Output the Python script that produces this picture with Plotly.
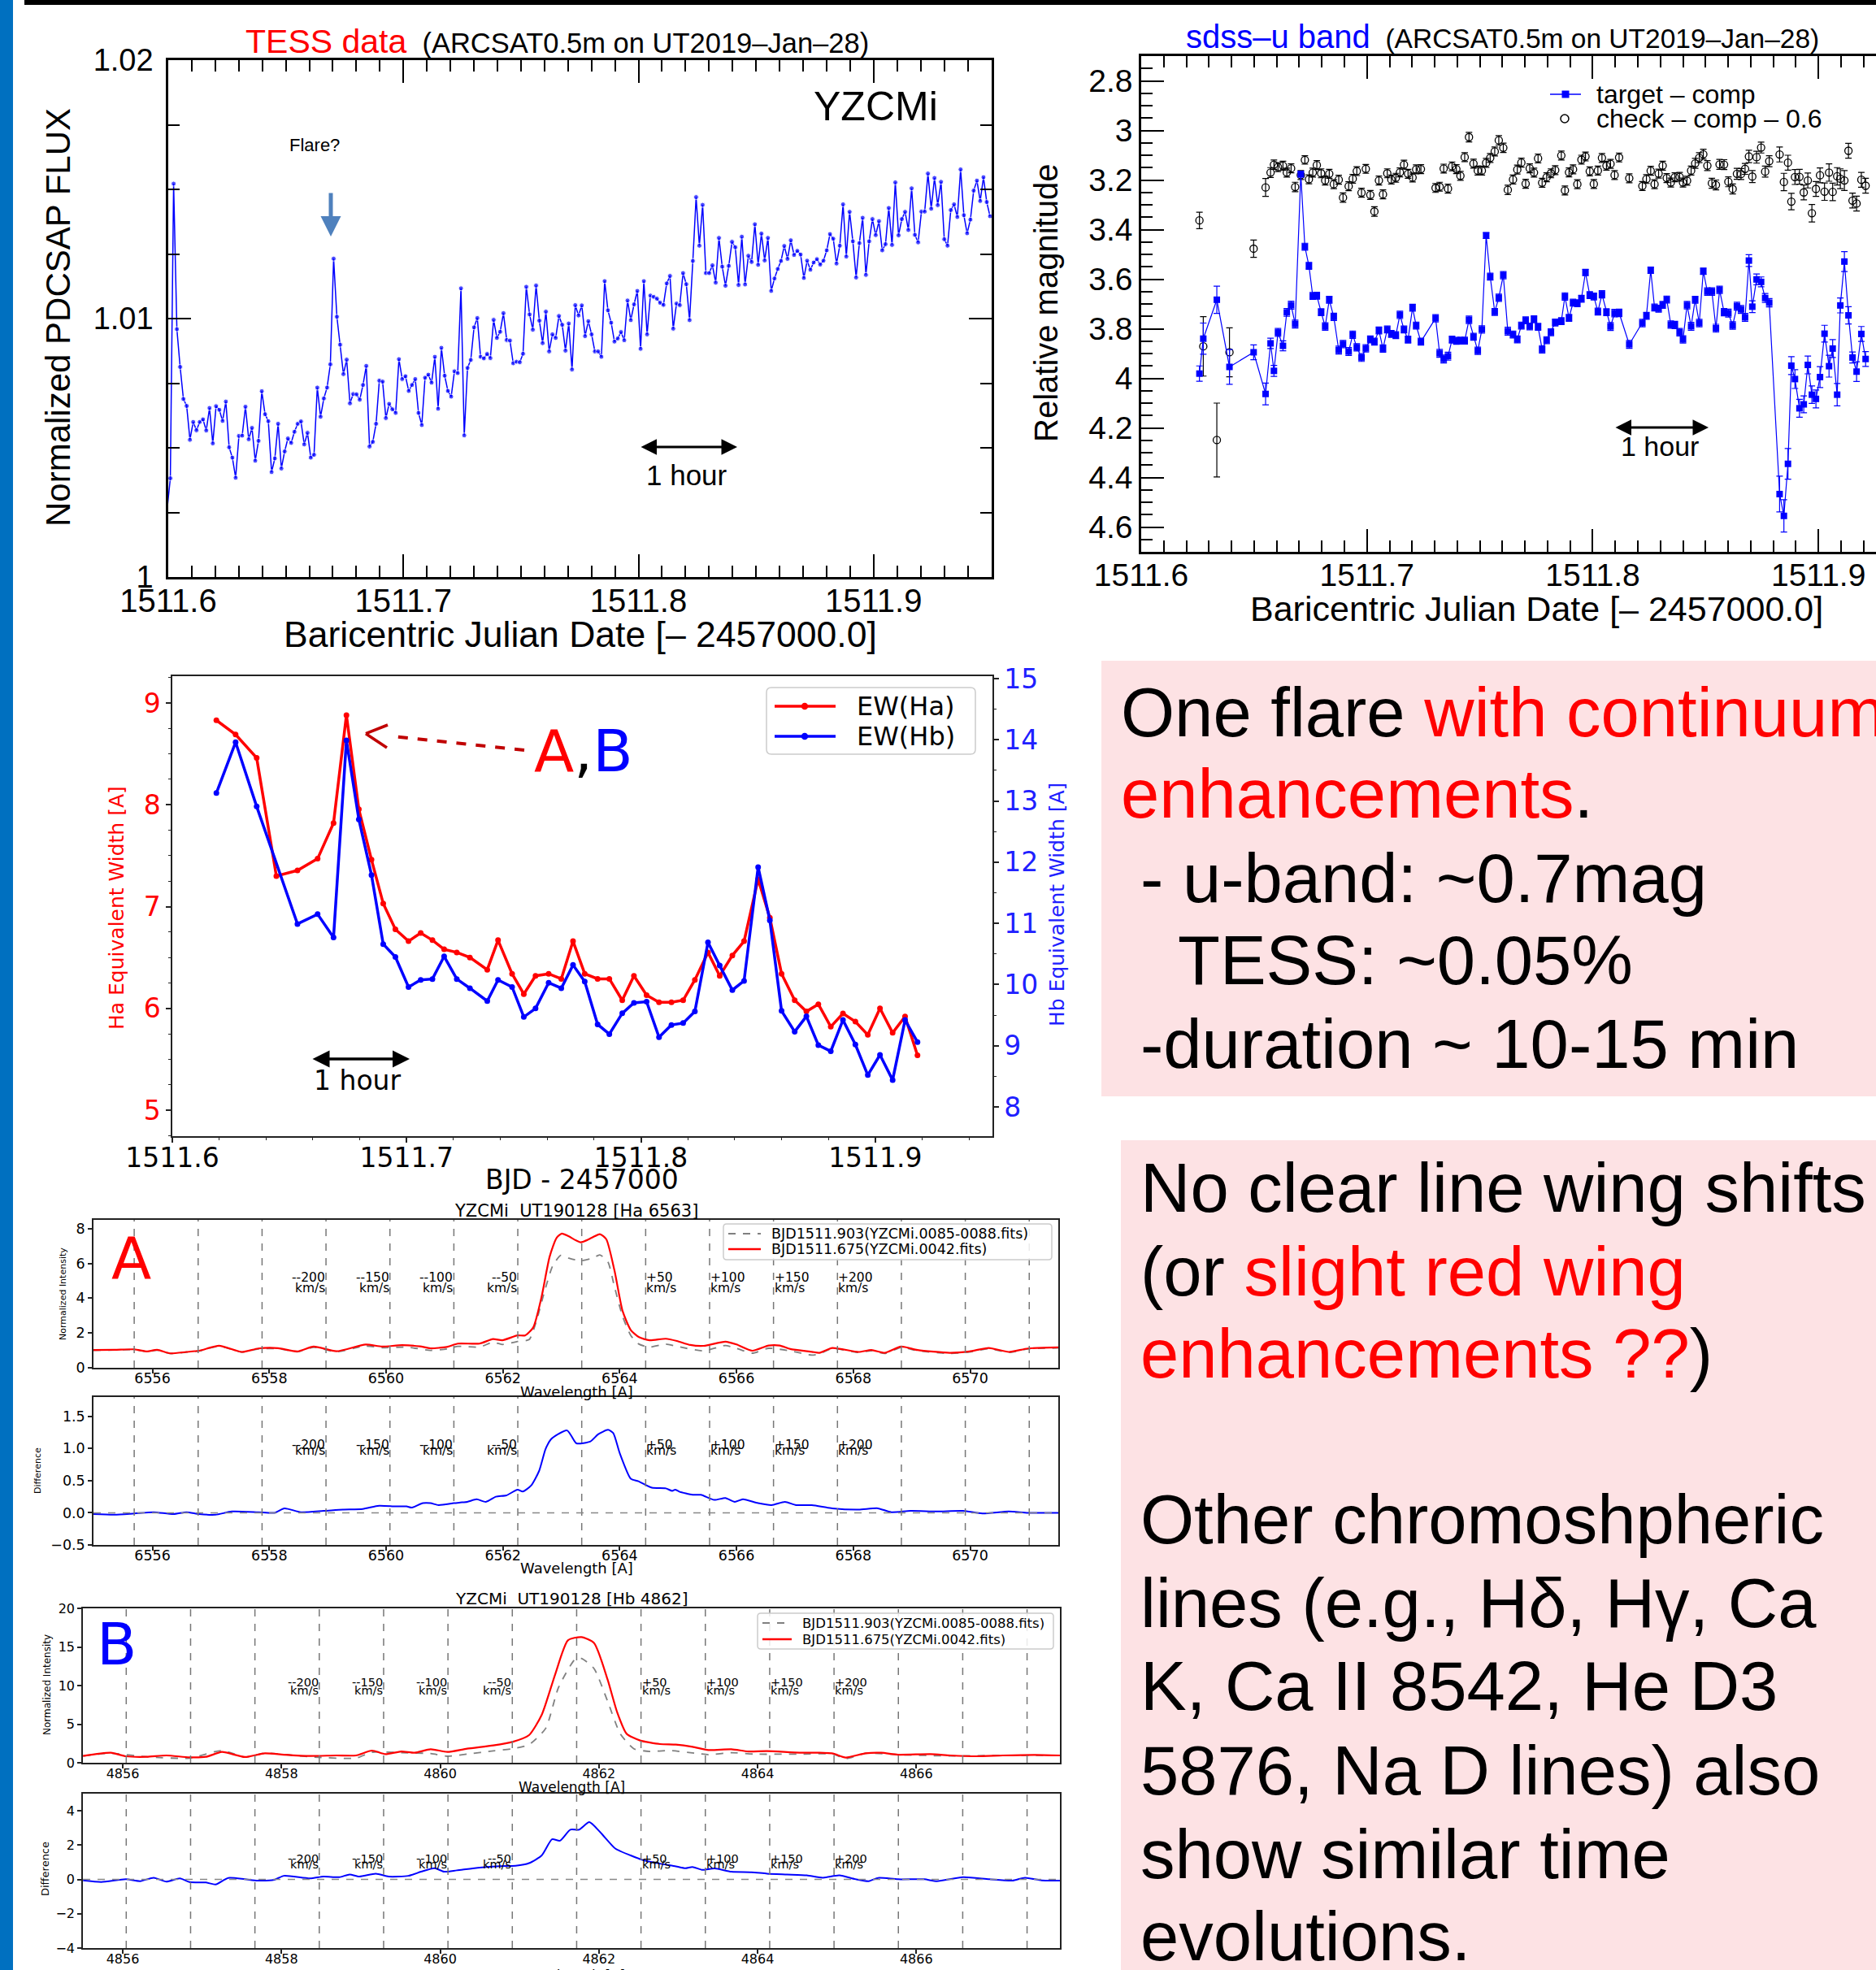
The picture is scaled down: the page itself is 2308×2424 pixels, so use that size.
import plotly.graph_objects as go

W, H = 2308, 2424
ARIAL = "Liberation Sans, Arial, Helvetica, sans-serif"
DEJAVU = "DejaVu Sans, Verdana, sans-serif"

# ---------------- TESS light curve (2-min cadence) ----------------
tess_t0 = 1511.5995
tess_cadence = 2.0 / 1440.0
tess_flux = [1.0026, 1.00382, 1.01522, 1.00959, 1.00813, 1.00689, 1.00662, 1.00531, 1.00600, 1.00568, 1.00600,
             1.00610, 1.00567, 1.00654, 1.00517, 1.00661, 1.00647, 1.00604, 1.00679, 1.00502, 1.00462,
             1.00384, 1.00546, 1.00547, 1.00659, 1.00533, 1.00577, 1.00450, 1.00527, 1.00719, 1.00630,
             1.00603, 1.00406, 1.00459, 1.00593, 1.00420, 1.00486, 1.00536, 1.00519, 1.00562, 1.00593,
             1.00602, 1.00513, 1.00558, 1.00462, 1.00473, 1.00733, 1.00620, 1.00691, 1.00733, 1.00823,
             1.01232, 1.01007, 1.00899, 1.00785, 1.00841, 1.00672, 1.00708, 1.00707, 1.00686, 1.00743,
             1.00817, 1.00505, 1.00523, 1.00593, 1.00760, 1.00756, 1.00615, 1.00670, 1.00649, 1.00635,
             1.00843, 1.00766, 1.00777, 1.00720, 1.00743, 1.00766, 1.00635, 1.00588, 1.00771, 1.00783,
             1.00752, 1.00852, 1.00651, 1.00887, 1.00779, 1.00720, 1.00698, 1.00796, 1.00789, 1.01117,
             1.00548, 1.00809, 1.00840, 1.00966, 1.01002, 1.00852, 1.00846, 1.00863, 1.00847, 1.00995,
             1.00925, 1.00949, 1.01021, 1.00917, 1.00915, 1.00827, 1.00833, 1.00831, 1.00864, 1.01123,
             1.01016, 1.00957, 1.01128, 1.00992, 1.00905, 1.01027, 1.00873, 1.00939, 1.00925, 1.01010,
             1.00976, 1.00876, 1.00981, 1.00803, 1.01052, 1.01012, 1.01051,
             1.00932, 1.00990, 1.00939, 1.00873, 1.00873, 1.00852, 1.01145, 1.01032, 1.00984, 1.00911,
             1.00923, 1.00948, 1.00916, 1.01070, 1.00994, 1.01055, 1.01107, 1.00883, 1.01145, 1.00939,
             1.01089, 1.01084, 1.01077, 1.01061, 1.01053, 1.01136, 1.01165, 1.00961, 1.01058, 1.01052,
             1.01176, 1.01133, 1.00994, 1.01223, 1.01470, 1.01282, 1.01440, 1.01176, 1.01176, 1.01206,
             1.01139, 1.01312, 1.01201, 1.01127, 1.01204, 1.01297, 1.01276, 1.01130, 1.01317, 1.01132,
             1.01243, 1.01219, 1.01365, 1.01208, 1.01329, 1.01225, 1.01312, 1.01107, 1.01155, 1.01192,
             1.01223, 1.01281, 1.01231, 1.01303, 1.01246, 1.01262, 1.01248, 1.01157, 1.01224, 1.01189,
             1.01217, 1.01230, 1.01209, 1.01224, 1.01264, 1.01327, 1.01309, 1.01213, 1.01282, 1.01442,
             1.01240, 1.01413, 1.01299, 1.01159, 1.01292, 1.01390, 1.01169, 1.01299, 1.01385, 1.01323,
             1.01377, 1.01264, 1.01288, 1.01428, 1.01285, 1.01527, 1.01322, 1.01385, 1.01413, 1.01343,
             1.01504, 1.01324, 1.01295, 1.01414, 1.01414, 1.01561, 1.01425, 1.01544, 1.01439, 1.01529,
             1.01307, 1.01282, 1.01420, 1.01442, 1.01393, 1.01577, 1.01400, 1.01330, 1.01383, 1.01495,
             1.01534, 1.01455, 1.01547, 1.01451, 1.01396]
tess_t = [tess_t0 + i * tess_cadence for i in range(len(tess_flux))]

# ---------------- ARCSAT sdss-u photometry ----------------
ub_t = [1511.6258, 1511.6275, 1511.6335, 1511.6391, 1511.6498, 1511.6551, 1511.6573, 1511.6588, 1511.6606, 1511.6628,
        1511.6645, 1511.6664, 1511.6682, 1511.6707, 1511.6725, 1511.6743, 1511.6760, 1511.6778, 1511.6797, 1511.6815,
        1511.6833, 1511.6853, 1511.6875, 1511.6894, 1511.6919, 1511.6937, 1511.6955, 1511.6976, 1511.6995, 1511.7015,
        1511.7033, 1511.7053, 1511.7071, 1511.7090, 1511.7108, 1511.7128, 1511.7146, 1511.7164, 1511.7182, 1511.7202,
        1511.7218, 1511.7239, 1511.7304, 1511.7322, 1511.7340, 1511.7359, 1511.7377, 1511.7396, 1511.7414, 1511.7433,
        1511.7452, 1511.7472, 1511.7491, 1511.7509, 1511.7528, 1511.7546, 1511.7566, 1511.7584, 1511.7604, 1511.7624,
        1511.7647, 1511.7666, 1511.7684, 1511.7703, 1511.7721, 1511.7740, 1511.7758, 1511.7776, 1511.7796, 1511.7815,
        1511.7834, 1511.7861, 1511.7877, 1511.7895, 1511.7913, 1511.7932, 1511.7950, 1511.7968, 1511.7987, 1511.8005,
        1511.8023, 1511.8041, 1511.8061, 1511.8079, 1511.8097, 1511.8117, 1511.8162, 1511.8220, 1511.8238, 1511.8257,
        1511.8274, 1511.8292, 1511.8310, 1511.8328, 1511.8346, 1511.8364, 1511.8385, 1511.8400, 1511.8418, 1511.8436,
        1511.8454, 1511.8472, 1511.8490, 1511.8508, 1511.8528, 1511.8546, 1511.8562, 1511.8582, 1511.8601, 1511.8620,
        1511.8639, 1511.8657, 1511.8675, 1511.8692, 1511.8707, 1511.8726, 1511.8746, 1511.8764, 1511.8782, 1511.8828,
        1511.8847, 1511.8865, 1511.8880, 1511.8896, 1511.8916, 1511.8935, 1511.8953, 1511.8971, 1511.8989, 1511.9007,
        1511.9027, 1511.9047, 1511.9063, 1511.9083, 1511.9097, 1511.9115, 1511.9133, 1511.9151, 1511.9169, 1511.9190,
        1511.9209]
ub_target = [3.981, 3.840, 3.683, 3.954, 3.895, 4.063, 3.859, 3.970, 3.815, 3.869,
             3.734, 3.705, 3.781, 3.176, 3.469, 3.546, 3.668, 3.667, 3.733, 3.791,
             3.683, 3.752, 3.886, 3.862, 3.892, 3.824, 3.875, 3.916, 3.879, 3.843,
             3.852, 3.807, 3.880, 3.803, 3.821, 3.826, 3.744, 3.803, 3.844, 3.715,
             3.787, 3.852, 3.758, 3.899, 3.922, 3.911, 3.844, 3.849, 3.848, 3.848,
             3.764, 3.832, 3.889, 3.803, 3.424, 3.590, 3.732, 3.675, 3.584, 3.810,
             3.823, 3.843, 3.787, 3.766, 3.791, 3.762, 3.792, 3.883, 3.846, 3.814,
             3.775, 3.769, 3.670, 3.756, 3.695, 3.697, 3.679, 3.573, 3.664, 3.670,
             3.731, 3.661, 3.733, 3.791, 3.737, 3.736, 3.863, 3.777, 3.748, 3.564,
             3.714, 3.719, 3.704, 3.682, 3.783, 3.785, 3.814, 3.843, 3.705, 3.790,
             3.683, 3.777, 3.568, 3.650, 3.650, 3.798, 3.643, 3.733, 3.737, 3.787,
             3.709, 3.722, 3.754, 3.525, 3.711, 3.601, 3.611, 3.676, 3.695, 4.467,
             4.555, 4.345, 3.949, 4.003, 4.121, 4.105, 3.946, 4.066, 4.083, 3.995,
             3.820, 3.951, 3.880, 4.066, 3.706, 3.529, 3.746, 3.916, 3.973, 3.821,
             3.922]
ub_target_err = [0.031, 0.063, 0.055, 0.070, 0.030, 0.044, 0.021, 0.022, 0.016, 0.020,
                 0.016, 0.016, 0.016, 0.012, 0.014, 0.014, 0.014, 0.014, 0.014, 0.015,
                 0.014, 0.015, 0.016, 0.015, 0.016, 0.015, 0.015, 0.016, 0.015, 0.014,
                 0.014, 0.014, 0.015, 0.014, 0.014, 0.014, 0.015, 0.014, 0.014, 0.014,
                 0.014, 0.014, 0.015, 0.016, 0.016, 0.016, 0.014, 0.014, 0.014, 0.014,
                 0.015, 0.014, 0.015, 0.015, 0.012, 0.014, 0.014, 0.015, 0.015, 0.016,
                 0.014, 0.014, 0.014, 0.014, 0.014, 0.014, 0.014, 0.015, 0.014, 0.014,
                 0.014, 0.014, 0.015, 0.014, 0.014, 0.014, 0.014, 0.013, 0.014, 0.014,
                 0.014, 0.015, 0.014, 0.016, 0.015, 0.015, 0.016, 0.015, 0.014, 0.013,
                 0.014, 0.014, 0.014, 0.014, 0.015, 0.015, 0.015, 0.015, 0.015, 0.016,
                 0.014, 0.015, 0.013, 0.015, 0.015, 0.016, 0.015, 0.015, 0.016, 0.015,
                 0.016, 0.016, 0.016, 0.024, 0.024, 0.022, 0.020, 0.018, 0.017, 0.072,
                 0.065, 0.062, 0.036, 0.038, 0.036, 0.034, 0.036, 0.035, 0.036, 0.042,
                 0.034, 0.044, 0.036, 0.045, 0.030, 0.040, 0.035, 0.022, 0.040, 0.030,
                 0.030]
ub_check = [3.363, 3.871, 4.249, 3.895, 3.477, 3.230, 3.170, 3.138, 3.148, 3.142,
            3.170, 3.153, 3.228, 3.180, 3.119, 3.197, 3.170, 3.140, 3.173, 3.202,
            3.175, 3.217, 3.199, 3.271, 3.225, 3.195, 3.164, 3.251, 3.155, 3.260,
            3.327, 3.202, 3.258, 3.173, 3.198, 3.191, 3.169, 3.138, 3.175, 3.190,
            3.157, 3.156, 3.232, 3.227, 3.154, 3.235, 3.145, 3.156, 3.183, 3.108,
            3.027, 3.134, 3.162, 3.162, 3.131, 3.111, 3.085, 3.040, 3.070, 3.240,
            3.198, 3.158, 3.130, 3.215, 3.153, 3.170, 3.113, 3.211, 3.189, 3.173,
            3.160, 3.101, 3.242, 3.169, 3.157, 3.217, 3.118, 3.105, 3.165, 3.216,
            3.162, 3.111, 3.142, 3.135, 3.180, 3.109, 3.193, 3.224, 3.196, 3.163,
            3.217, 3.174, 3.142, 3.192, 3.210, 3.189, 3.187, 3.210, 3.203, 3.162,
            3.133, 3.110, 3.096, 3.142, 3.213, 3.220, 3.137, 3.138, 3.207, 3.236,
            3.175, 3.176, 3.155, 3.105, 3.186, 3.108, 3.069, 3.166, 3.124, 3.097,
            3.208, 3.130, 3.287, 3.188, 3.187, 3.250, 3.202, 3.334, 3.236, 3.181,
            3.247, 3.170, 3.248, 3.185, 3.195, 3.202, 3.082, 3.283, 3.295, 3.199,
            3.223]
ub_check_err = [0.033, 0.120, 0.149, 0.099, 0.035, 0.036, 0.020, 0.019, 0.018, 0.018,
                0.018, 0.018, 0.019, 0.018, 0.017, 0.018, 0.018, 0.018, 0.018, 0.018,
                0.018, 0.018, 0.018, 0.019, 0.018, 0.018, 0.018, 0.018, 0.018, 0.018,
                0.019, 0.018, 0.018, 0.018, 0.018, 0.018, 0.018, 0.018, 0.018, 0.018,
                0.018, 0.018, 0.018, 0.018, 0.018, 0.018, 0.018, 0.018, 0.018, 0.018,
                0.019, 0.018, 0.018, 0.018, 0.018, 0.018, 0.018, 0.019, 0.019, 0.019,
                0.018, 0.018, 0.018, 0.018, 0.018, 0.018, 0.018, 0.018, 0.018, 0.018,
                0.018, 0.018, 0.018, 0.018, 0.018, 0.018, 0.018, 0.018, 0.018, 0.018,
                0.018, 0.018, 0.018, 0.018, 0.018, 0.018, 0.018, 0.018, 0.018, 0.018,
                0.018, 0.018, 0.018, 0.018, 0.018, 0.018, 0.018, 0.018, 0.018, 0.018,
                0.020, 0.020, 0.020, 0.020, 0.020, 0.020, 0.020, 0.020, 0.020, 0.020,
                0.022, 0.022, 0.022, 0.025, 0.024, 0.024, 0.022, 0.022, 0.022, 0.030,
                0.035, 0.030, 0.033, 0.030, 0.030, 0.030, 0.030, 0.035, 0.030, 0.030,
                0.035, 0.035, 0.035, 0.035, 0.040, 0.040, 0.030, 0.030, 0.030, 0.030,
                0.030]

# ---------------- Equivalent widths ----------------
ew_t = [1511.6188, 1511.6270, 1511.6360, 1511.6444, 1511.6534, 1511.6620, 1511.6688, 1511.6743, 1511.6796, 1511.6850,
        1511.6900, 1511.6952, 1511.7008, 1511.7060, 1511.7110, 1511.7160, 1511.7214, 1511.7270, 1511.7344, 1511.7390,
        1511.7450, 1511.7500, 1511.7550, 1511.7606, 1511.7660, 1511.7710, 1511.7760, 1511.7815, 1511.7865, 1511.7920,
        1511.7970, 1511.8024, 1511.8077, 1511.8130, 1511.8180, 1511.8230, 1511.8286, 1511.8336, 1511.8390, 1511.8440,
        1511.8500, 1511.8550, 1511.8600, 1511.8656, 1511.8706, 1511.8757, 1511.8810, 1511.8862, 1511.8915, 1511.8968,
        1511.9020, 1511.9074, 1511.9127, 1511.9180]
ew_ha = [8.83, 8.69, 8.46, 7.30, 7.355, 7.47, 7.82, 8.88, 7.955, 7.46,
         7.03, 6.777, 6.66, 6.74, 6.67, 6.58, 6.55, 6.50, 6.38, 6.67,
         6.34, 6.14, 6.32, 6.34, 6.29, 6.66, 6.34, 6.29, 6.29, 6.08,
         6.32, 6.13, 6.06, 6.06, 6.08, 6.28, 6.55, 6.32, 6.52, 6.66,
         7.27, 6.89, 6.34, 6.08, 5.97, 6.04, 5.82, 5.95, 5.87, 5.74,
         6.00, 5.76, 5.92, 5.54]
ew_hb = [13.13, 13.96, 12.91, None, 10.99, 11.15, 10.77, 13.99, 12.70, 11.79,
         10.66, 10.45, 9.96, 10.075, 10.09, 10.46, 10.09, 9.94, 9.73, 10.075,
         9.96, 9.47, 9.61, 10.03, 9.94, 10.32, 10.05, 9.35, 9.19, 9.53,
         9.70, 9.72, 9.14, 9.34, 9.37, 9.56, 10.69, 10.31, 9.91, 10.06,
         11.92, 11.05, 9.57, 9.23, 9.48, 9.01, 8.91, 9.42, 9.02, 8.52,
         8.85, 8.44, 9.42, 9.06]

# ---------------- H-alpha spectra ----------------
ha_wl_red = [6554.99, 6555.35, 6555.69, 6555.91, 6556.08, 6556.30, 6556.58, 6556.80, 6557.14, 6557.53,
             6557.81, 6558.15, 6558.48, 6558.76, 6559.15, 6559.65, 6559.93, 6560.27, 6560.58, 6560.76,
             6561.04, 6561.23, 6561.60, 6561.83, 6561.99, 6562.25, 6562.38, 6562.52, 6562.66, 6562.80,
             6562.92, 6563.01, 6563.13, 6563.33, 6563.52, 6563.66, 6563.77, 6563.91, 6564.05, 6564.19,
             6564.33, 6564.51, 6564.79, 6564.98, 6565.21, 6565.44, 6565.81, 6566.00, 6566.27, 6566.55,
             6566.74, 6566.92, 6567.29, 6567.42, 6567.64, 6568.09, 6568.31, 6568.54, 6568.82, 6569.10,
             6569.65, 6569.99, 6570.32, 6570.66, 6570.99, 6571.51]
ha_red = [1.02, 1.03, 1.06, 0.94, 1.03, 0.83, 0.91, 0.98, 1.27, 0.91,
          1.11, 1.13, 0.94, 1.22, 0.95, 1.34, 1.22, 1.30, 1.23, 1.12,
          1.20, 1.39, 1.39, 1.65, 1.58, 1.86, 1.86, 2.32, 4.04, 6.38,
          7.47, 7.71, 7.55, 7.21, 7.47, 7.68, 7.39, 5.60, 3.26, 2.17,
          1.76, 1.58, 1.67, 1.54, 1.31, 1.26, 1.50, 1.34, 0.98, 1.28,
          1.28, 1.08, 0.92, 0.86, 1.14, 0.91, 1.02, 0.86, 1.22, 1.02,
          0.86, 0.94, 1.14, 0.91, 1.11, 1.17]
ha_wl_gray = [6554.99, 6555.35, 6555.69, 6555.91, 6556.08, 6556.30, 6556.58, 6556.80, 6557.14, 6557.53,
              6557.81, 6558.15, 6558.48, 6558.76, 6559.15, 6559.65, 6559.93, 6560.35, 6560.76, 6561.04,
              6561.23, 6561.60, 6561.83, 6561.99, 6562.25, 6562.45, 6562.57, 6562.71, 6562.85, 6562.99,
              6563.13, 6563.33, 6563.54, 6563.66, 6563.80, 6563.91, 6564.05, 6564.19, 6564.33, 6564.51,
              6564.79, 6564.98, 6565.44, 6565.81, 6566.00, 6566.27, 6566.55, 6566.92, 6567.29, 6567.42,
              6567.64, 6568.09, 6568.31, 6568.54, 6568.82, 6569.10, 6569.65, 6569.99, 6570.32, 6570.66,
              6570.99, 6571.51]
ha_gray = [1.00, 1.02, 1.04, 0.93, 1.01, 0.82, 0.90, 0.96, 1.24, 0.90,
           1.08, 1.10, 0.92, 1.18, 0.92, 1.25, 1.15, 1.19, 1.00, 1.08,
           1.23, 1.19, 1.47, 1.34, 1.51, 1.62, 2.64, 4.35, 5.83, 6.46,
           6.30, 6.15, 6.30, 6.49, 6.07, 4.66, 2.95, 1.86, 1.36, 1.19,
           1.36, 1.23, 0.97, 1.28, 1.12, 0.84, 1.12, 0.97, 0.73, 0.80,
           1.10, 0.88, 0.98, 0.82, 1.17, 0.98, 0.82, 0.90, 1.10, 0.88,
           1.08, 1.14]
ha_wl_diff = [6554.99, 6555.35, 6555.69, 6556.02, 6556.36, 6556.58, 6556.80, 6557.08, 6557.36, 6557.81,
              6558.09, 6558.26, 6558.54, 6558.93, 6559.26, 6559.60, 6559.88, 6560.16, 6560.35, 6560.44,
              6560.63, 6560.76, 6560.90, 6561.16, 6561.27, 6561.39, 6561.55, 6561.71, 6561.88, 6562.06,
              6562.25, 6562.34, 6562.48, 6562.62, 6562.73, 6562.82, 6562.94, 6563.10, 6563.17, 6563.26,
              6563.50, 6563.63, 6563.80, 6563.89, 6564.00, 6564.19, 6564.32, 6564.55, 6564.79, 6564.90,
              6564.95, 6565.02, 6565.25, 6565.39, 6565.62, 6565.81, 6565.97, 6566.11, 6566.37, 6566.60,
              6566.83, 6567.02, 6567.29, 6567.64, 6568.09, 6568.42, 6568.65, 6568.98, 6569.43, 6569.88,
              6570.21, 6570.66, 6570.99, 6571.51]
ha_diff = [-0.02, -0.03, -0.01, 0.01, -0.02, 0.01, -0.02, -0.03, 0.02, 0.01,
           0.00, 0.07, 0.01, 0.03, 0.05, 0.06, 0.11, 0.10, 0.10, 0.08,
           0.15, 0.15, 0.12, 0.15, 0.16, 0.17, 0.21, 0.17, 0.25, 0.27,
           0.36, 0.33, 0.42, 0.65, 0.99, 1.14, 1.22, 1.28, 1.20, 1.08,
           1.11, 1.22, 1.29, 1.24, 0.93, 0.53, 0.49, 0.39, 0.38, 0.34,
           0.36, 0.33, 0.28, 0.28, 0.20, 0.23, 0.17, 0.21, 0.15, 0.12,
           0.17, 0.12, 0.12, 0.07, 0.05, 0.07, 0.01, 0.03, 0.02, 0.03,
           -0.01, 0.02, 0.00, 0.00]

# ---------------- H-beta spectra ----------------
hb_wl_red = [4855.50, 4855.85, 4856.04, 4856.30, 4856.55, 4856.84, 4857.05, 4857.25, 4857.54, 4857.79,
             4858.03, 4858.36, 4858.69, 4858.94, 4859.14, 4859.31, 4859.51, 4859.68, 4859.88, 4860.09,
             4860.34, 4860.67, 4860.91, 4861.12, 4861.28, 4861.45, 4861.61, 4861.78, 4861.94, 4862.11,
             4862.23, 4862.35, 4862.52, 4862.77, 4862.97, 4863.18, 4863.38, 4863.67, 4863.88, 4864.12,
             4864.53, 4864.78, 4864.95, 4865.11, 4865.36, 4865.56, 4865.77, 4866.18, 4866.43, 4866.76,
             4867.09, 4867.50, 4867.81]
hb_red = [0.88, 1.30, 0.84, 0.77, 0.95, 0.70, 0.77, 1.40, 0.74, 1.23,
          1.05, 0.88, 0.95, 0.95, 1.58, 1.12, 1.47, 1.30, 1.75, 1.40,
          1.82, 2.25, 2.70, 3.58, 6.21, 11.47, 15.86, 16.28, 15.51, 10.77,
          6.56, 3.75, 2.88, 2.42, 2.35, 2.07, 1.65, 1.75, 1.47, 1.51,
          1.30, 1.30, 1.19, 0.67, 1.23, 1.30, 1.05, 1.12, 0.95, 0.84,
          0.95, 1.02, 0.95]
hb_wl_gray = [4855.50, 4855.85, 4856.30, 4856.84, 4857.25, 4857.54, 4857.79, 4858.36, 4858.94, 4859.14,
              4859.51, 4859.88, 4860.09, 4860.34, 4860.67, 4860.91, 4861.12, 4861.33, 4861.49, 4861.70,
              4861.78, 4861.94, 4862.11, 4862.27, 4862.44, 4862.64, 4862.89, 4863.22, 4863.38, 4863.67,
              4863.96, 4864.53, 4864.95, 4865.11, 4865.36, 4865.77, 4866.43, 4867.09, 4867.81]
hb_gray = [0.88, 1.23, 0.77, 0.60, 1.58, 0.74, 1.23, 0.77, 0.60, 1.37,
           1.30, 1.19, 0.84, 1.12, 1.54, 1.82, 2.35, 4.46, 9.72, 13.40,
           13.51, 12.18, 7.96, 3.75, 1.82, 1.47, 1.58, 1.23, 1.05, 1.30,
           1.12, 1.12, 1.12, 0.53, 1.23, 1.05, 0.88, 0.95, 0.95]
hb_wl_diff = [4855.50, 4855.73, 4856.04, 4856.22, 4856.39, 4856.55, 4856.72, 4856.84, 4857.05, 4857.17,
              4857.33, 4857.54, 4857.70, 4857.91, 4858.03, 4858.36, 4858.53, 4858.73, 4858.86, 4858.98,
              4859.19, 4859.35, 4859.60, 4859.76, 4859.93, 4860.05, 4860.21, 4860.50, 4860.75, 4860.95,
              4861.12, 4861.28, 4861.41, 4861.51, 4861.64, 4861.75, 4861.88, 4862.02, 4862.21, 4862.40,
              4862.56, 4862.77, 4862.97, 4863.09, 4863.18, 4863.30, 4863.46, 4863.67, 4863.92, 4864.12,
              4864.37, 4864.62, 4864.82, 4865.03, 4865.23, 4865.40, 4865.52, 4865.77, 4866.10, 4866.26,
              4866.59, 4866.92, 4867.21, 4867.37, 4867.58, 4867.81]
hb_diff = [-0.06, -0.15, 0.01, -0.10, 0.10, -0.13, 0.06, -0.15, -0.18, -0.29,
           0.09, 0.01, -0.07, -0.02, 0.21, 0.06, 0.17, 0.13, 0.29, 0.17,
           0.34, 0.17, 0.21, 0.45, 0.65, 0.45, 0.53, 0.69, 0.77, 0.80,
           0.95, 1.40, 2.34, 2.26, 2.90, 2.90, 3.34, 2.74, 1.79, 1.40,
           1.12, 0.92, 0.76, 0.65, 0.73, 0.56, 0.64, 0.45, 0.42, 0.34,
           0.29, 0.24, 0.10, 0.24, 0.02, -0.10, 0.09, 0.01, 0.01, -0.10,
           0.13, 0.01, -0.07, 0.10, -0.06, -0.07]

# velocity marker grid (km/s) around the line centres
vel_grid = [-350, -300, -250, -200, -150, -100, -50, 0, 50, 100, 150, 200, 250, 300, 350]
vel_labels = {-200: "--200", -150: "--150", -100: "--100", -50: "--50",
              50: "+50", 100: "+100", 150: "+150", 200: "+200"}
ha_center = 6563.35
hb_center = 4861.72
C_KMS = 299792.458

legend_old = "BJD1511.903(YZCMi.0085-0088.fits)"
legend_new = "BJD1511.675(YZCMi.0042.fits)"


# ---------------- helpers (pixel -> paper) ----------------
def fx(x):
    return x / W


def fy(y):
    return 1 - y / H


def dx(a, b):
    return [a / W, b / W]


def dy(top, bottom):
    return [1 - bottom / H, 1 - top / H]


annotations = []
shapes = []


def ann(x, y, text, size, color="black", family=ARIAL, xa="center", ya="middle", angle=0):
    annotations.append(dict(x=fx(x), y=fy(y), xref="paper", yref="paper", text=text, showarrow=False,
                            font=dict(size=size, color=color, family=family), xanchor=xa, yanchor=ya,
                            textangle=angle, borderpad=0))


def ann_base(x, base, text, size, color="black", family=ARIAL, xa="left", desc=0.212):
    ann(x, base + desc * size, text, size, color=color, family=family, xa=xa, ya="bottom")


def rect(x0, y0, x1, y1, fill, line_color=None, lw=0, layer="below"):
    shapes.append(dict(type="rect", xref="paper", yref="paper", x0=fx(x0), x1=fx(x1), y0=fy(y1), y1=fy(y0),
                       fillcolor=fill, line=dict(color=line_color or fill, width=lw), layer=layer))


def seg(x0, y0, x1, y1, color, width, dash="solid"):
    shapes.append(dict(type="line", xref="paper", yref="paper", x0=fx(x0), y0=fy(y0), x1=fx(x1), y1=fy(y1),
                       line=dict(color=color, width=width, dash=dash), layer="above"))


def circ(cx, cy, r, line_color, fill="rgba(0,0,0,0)", lw=1.5):
    shapes.append(dict(type="circle", xref="paper", yref="paper", x0=fx(cx - r), x1=fx(cx + r),
                       y0=fy(cy + r), y1=fy(cy - r), fillcolor=fill, line=dict(color=line_color, width=lw),
                       layer="above"))


def P(x, y):
    return f"{fx(x):.6f},{fy(y):.6f}"


def rrect(x0, y0, x1, y1, r, edge="#cccccc", fill="rgba(255,255,255,0.85)"):
    path = (f"M{P(x0 + r, y0)} L{P(x1 - r, y0)} Q{P(x1, y0)} {P(x1, y0 + r)} L{P(x1, y1 - r)} "
            f"Q{P(x1, y1)} {P(x1 - r, y1)} L{P(x0 + r, y1)} Q{P(x0, y1)} {P(x0, y1 - r)} "
            f"L{P(x0, y0 + r)} Q{P(x0, y0)} {P(x0 + r, y0)} Z")
    shapes.append(dict(type="path", xref="paper", yref="paper", path=path, fillcolor=fill,
                       line=dict(color=edge, width=1.5), layer="above"))


fig = go.Figure()

# ---------------- traces ----------------
fig.add_trace(go.Scatter(x=tess_t, y=tess_flux, mode="lines+markers", xaxis="x", yaxis="y",
                         line=dict(color="#0000FF", width=1.5),
                         marker=dict(color="#0000FF", size=[0] + [6] * (len(tess_flux) - 1)),
                         showlegend=False))

fig.add_trace(go.Scatter(x=ub_t, y=ub_check, mode="markers", xaxis="x2", yaxis="y2",
                         marker=dict(symbol="circle-open", size=9, color="black", line=dict(width=1.3)),
                         error_y=dict(type="data", array=ub_check_err, color="black", thickness=1.2, width=4),
                         showlegend=False))
fig.add_trace(go.Scatter(x=ub_t, y=ub_target, mode="lines+markers", xaxis="x2", yaxis="y2",
                         line=dict(color="#0000FF", width=1.2),
                         marker=dict(symbol="square", size=8, color="#0000FF"),
                         error_y=dict(type="data", array=ub_target_err, color="#0000FF", thickness=1.2, width=4),
                         showlegend=False))

fig.add_trace(go.Scatter(x=ew_t, y=ew_ha, mode="lines+markers", xaxis="x3", yaxis="y3",
                         line=dict(color="#FF0000", width=3.5), marker=dict(color="#FF0000", size=7),
                         showlegend=False))
fig.add_trace(go.Scatter(x=ew_t, y=ew_hb, mode="lines+markers", xaxis="x3", yaxis="y4", connectgaps=True,
                         line=dict(color="#0000FF", width=3.5), marker=dict(color="#0000FF", size=7),
                         showlegend=False))

fig.add_trace(go.Scatter(x=ha_wl_gray, y=ha_gray, mode="lines", xaxis="x5", yaxis="y5",
                         line=dict(color="#808080", width=1.8, dash="dash", shape="spline", smoothing=0.6),
                         showlegend=False))
fig.add_trace(go.Scatter(x=ha_wl_red, y=ha_red, mode="lines", xaxis="x5", yaxis="y5",
                         line=dict(color="#FF0000", width=2.2, shape="spline", smoothing=0.6),
                         showlegend=False))
fig.add_trace(go.Scatter(x=ha_wl_diff, y=ha_diff, mode="lines", xaxis="x6", yaxis="y6",
                         line=dict(color="#0000FF", width=2.0, shape="spline", smoothing=0.6),
                         showlegend=False))
fig.add_trace(go.Scatter(x=hb_wl_gray, y=hb_gray, mode="lines", xaxis="x7", yaxis="y7",
                         line=dict(color="#808080", width=1.8, dash="dash", shape="spline", smoothing=0.6),
                         showlegend=False))
fig.add_trace(go.Scatter(x=hb_wl_red, y=hb_red, mode="lines", xaxis="x7", yaxis="y7",
                         line=dict(color="#FF0000", width=2.2, shape="spline", smoothing=0.6),
                         showlegend=False))
fig.add_trace(go.Scatter(x=hb_wl_diff, y=hb_diff, mode="lines", xaxis="x8", yaxis="y8",
                         line=dict(color="#0000FF", width=2.0, shape="spline", smoothing=0.6),
                         showlegend=False))


# ---------------- axes ----------------
def root_axis(domain, rng, anchor, tick0, dtick, mdtick, size=38, standoff=10, fmt=None, mirror="ticks"):
    d = dict(domain=domain, range=rng, anchor=anchor, showline=True, linecolor="black", linewidth=2.5,
             mirror=mirror, ticks="inside", ticklen=28, tickwidth=2, tickcolor="black",
             tick0=tick0, dtick=dtick, automargin=False,
             minor=dict(tick0=tick0, dtick=mdtick, ticks="inside", ticklen=14, tickwidth=1.5,
                        tickcolor="black", showgrid=False),
             showgrid=False, zeroline=False, ticklabelstandoff=standoff,
             tickfont=dict(family=ARIAL, size=size, color="black"))
    if fmt:
        d["tickformat"] = fmt
    return d


def mpl_axis(domain, rng, anchor, tick0, dtick, size, color="black", mdtick=None, fmt=None, side=None,
             mirror=True, ticklen=8, showline=True, standoff=0):
    d = dict(domain=domain, range=rng, anchor=anchor, showline=showline, linecolor="#222222", linewidth=1.5,
             mirror=mirror, ticks="outside", ticklen=ticklen, tickwidth=1.5, tickcolor="#222222",
             tick0=tick0, dtick=dtick, showgrid=False, zeroline=False, automargin=False,
             ticklabelstandoff=standoff,
             tickfont=dict(family=DEJAVU, size=size, color=color))
    if mdtick:
        d["minor"] = dict(tick0=tick0, dtick=mdtick, ticks="outside", ticklen=max(3, ticklen * 0.55),
                          tickwidth=1.2, tickcolor="#222222", showgrid=False)
    if fmt:
        d["tickformat"] = fmt
    if side:
        d["side"] = side
    return d


layout_axes = dict(
    xaxis=root_axis(dx(207, 1220), [1511.6, 1511.9502], "y", 1511.6, 0.1, 0.01, 40, -8, fmt=".1f"),
    yaxis=root_axis(dy(74, 710), [1.0, 1.02], "x", 1.0, 0.01, 0.0025, 38, 8),
    xaxis2=root_axis(dx(1404, 2308), [1511.6, 1511.9255], "y2", 1511.6, 0.1, 0.01, 39, -8, fmt=".1f"),
    yaxis2=root_axis(dy(69, 679), [4.7, 2.7], "x2", 2.8, 0.2, 0.05, 39, 0, mirror=False),
    xaxis3=mpl_axis(dx(212, 1221), [1511.6, 1511.95], "y3", 1511.6, 0.1, 33, mdtick=0.02, ticklen=6,
                    fmt=".1f", standoff=-9),
    yaxis3=mpl_axis(dy(832, 1398), [4.745, 9.263], "x3", 5, 1, 33, color="#FF0000", mdtick=0.25,
                    mirror=False, ticklen=6),
    yaxis4=mpl_axis(dy(832, 1398), [7.522, 15.04], "x3", 8, 1, 33, color="#2020FF", mdtick=0.5,
                    side="right", mirror=False, ticklen=6),
    xaxis5=mpl_axis(dx(115, 1302), [6554.99, 6571.51], "y5", 6556, 2, 17.5, ticklen=5, fmt="d", standoff=-9),
    yaxis5=mpl_axis(dy(1501, 1683), [0, 8.5], "x5", 0, 2, 17.5, ticklen=5),
    xaxis6=mpl_axis(dx(115, 1302), [6554.99, 6571.51], "y6", 6556, 2, 17.5, ticklen=5, fmt="d", standoff=-9),
    yaxis6=mpl_axis(dy(1719, 1901), [-0.5, 1.8], "x6", -0.5, 0.5, 17.5, fmt=".1f", ticklen=5),
    xaxis7=mpl_axis(dx(102, 1304), [4855.498, 4867.81], "y7", 4856, 2, 16, ticklen=5, fmt="d", standoff=-7),
    yaxis7=mpl_axis(dy(1979, 2169), [0, 20], "x7", 0, 5, 16, ticklen=5),
    xaxis8=mpl_axis(dx(102, 1304), [4855.498, 4867.81], "y8", 4856, 2, 16, ticklen=5, fmt="d", standoff=-7),
    yaxis8=mpl_axis(dy(2207, 2397), [-4, 5], "x8", -4, 2, 16, ticklen=5),
)
layout_axes["yaxis4"]["overlaying"] = "y3"
layout_axes["yaxis4"]["showline"] = True

# ---------------- decorations ----------------
# slide furniture
rect(0, 0, 16, H, "#0070C0")
rect(30, 0, W, 6, "#000000")
rect(1355, 813, W + 5, 1349, "#FDE2E4")
rect(1379, 1403, W + 5, H + 5, "#FDE2E4")

# --- TESS panel texts ---
ann_base(301, 68, "<span style='color:#FF0000;font-size:41px'>TESS data</span>\u00a0\u00a0(ARCSAT0.5m on UT2019\u2013Jan\u201328)", 34.5)
ann_base(1000, 149, "YZCMi", 50)
ann(387, 178, "Flare?", 22)
ann(845, 584, "1 hour", 35)
ann_base(714, 797, "Baricentric Julian Date [\u2013 2457000.0]", 44.5, xa="center")
ann(71, 391, "Normalized PDCSAP FLUX", 42, angle=-90)
annotations.append(dict(x=fx(407), y=fy(291), xref="paper", yref="paper", ax=0, ay=-55, text="",
                        showarrow=True, arrowhead=2, arrowsize=1.0, arrowwidth=5, arrowcolor="#4F81BD"))
annotations.append(dict(x=fx(907), y=fy(550), xref="paper", yref="paper", ax=-120, ay=0, text="",
                        showarrow=True, arrowhead=2, arrowside="end+start", arrowsize=1.3, arrowwidth=3,
                        arrowcolor="black"))

# --- u-band panel texts ---
ann_base(1458, 61, "<span style='color:#0000FF;font-size:40px'>sdss\u2013u band</span>\u00a0\u00a0(ARCSAT0.5m on UT2019\u2013Jan\u201328)", 33.5)
ann(2042, 549, "1 hour", 34)
ann_base(1890, 765, "Baricentric Julian Date [\u2013 2457000.0]", 43, xa="center")
ann(1287, 373, "Relative magnitude", 40, angle=-90)
annotations.append(dict(x=fx(2102), y=fy(526), xref="paper", yref="paper", ax=-116, ay=0, text="",
                        showarrow=True, arrowhead=2, arrowside="end+start", arrowsize=1.3, arrowwidth=3,
                        arrowcolor="black"))
# legend
seg(1907, 116, 1945, 116, "#0000FF", 1.5)
rect(1921.5, 111.5, 1930.5, 120.5, "#0000FF", layer="above")
circ(1925, 146, 5, "black")
ann(1963, 116, "target \u2013 comp", 32, xa="left")
ann(1963, 146, "check \u2013 comp \u2013 0.6", 32, xa="left")

# --- EW panel texts ---
ann(718, 924, "<span style='color:#FF0000'>A</span>,<span style='color:#0000FF'>B</span>", 72, family=DEJAVU)
ann(440, 1329, "1 hour", 33, family=DEJAVU)
ann(716, 1451, "BJD - 2457000", 33, family=DEJAVU)
ann(144, 1117, "Ha Equivalent Width [A]", 25, color="#FF0000", family=DEJAVU, angle=-90)
ann(1300, 1113, "Hb Equivalent Width [A]", 25, color="#2020FF", family=DEJAVU, angle=-90)
annotations.append(dict(x=fx(504), y=fy(1303), xref="paper", yref="paper", ax=-121, ay=0, text="",
                        showarrow=True, arrowhead=2, arrowside="end+start", arrowsize=1.2, arrowwidth=3.5,
                        arrowcolor="black"))
# dashed arrow to the flare peak
seg(645, 923, 482, 906, "#C00000", 4, dash="dash")
seg(450, 902.7, 477, 892, "#C00000", 3.5)
seg(450, 902.7, 476, 920, "#C00000", 3.5)
# legend box
rrect(943, 846, 1200, 928, 6)
seg(953, 869, 1028, 869, "#FF0000", 3.5)
circ(990, 869, 3.5, "#FF0000", fill="#FF0000")
seg(953, 906, 1028, 906, "#0000FF", 3.5)
circ(990, 906, 3.5, "#0000FF", fill="#0000FF")
ann(1053, 869, "EW(Ha)", 32, family=DEJAVU, xa="left")
ann(1053, 906, "EW(Hb)", 32, family=DEJAVU, xa="left")

# --- spectra ---
ann(709, 1490, "YZCMi\u00a0\u00a0UT190128 [Ha 6563]", 21, family=DEJAVU)
ann(709, 1712, "Wavelength [A]", 18, family=DEJAVU)
ann(709, 1929, "Wavelength [A]", 18, family=DEJAVU)
ann(77, 1592, "Normalized Intensity", 11, family=DEJAVU, angle=-90)
ann(46, 1809, "Difference", 11, family=DEJAVU, angle=-90)
ann(161, 1548, "A", 72, color="#FF0000", family=DEJAVU)

ann(703, 1967, "YZCMi\u00a0\u00a0UT190128 [Hb 4862]", 20, family=DEJAVU)
ann(703, 2199, "Wavelength [A]", 17, family=DEJAVU)
ann(703, 2431, "Wavelength [A]", 17, family=DEJAVU)
ann(58, 2073, "Normalized Intensity", 12, family=DEJAVU, angle=-90)
ann(55, 2300, "Difference", 13, family=DEJAVU, angle=-90)
ann(143, 2023, "B", 72, color="#0000FF", family=DEJAVU)

for xr, yrs, center, lab_y, lab_size in (("x5", ("y5", "y6"), ha_center, ((5.17, 4.56), (1.06, 0.96)), 15.5),
                                          ("x7", ("y7", "y8"), hb_center, ((10.4, 9.37), (1.21, 0.89)), 14.5)):
    for v in vel_grid:
        lam = center * (1 + v / C_KMS)
        for yr in yrs:
            shapes.append(dict(type="line", xref=xr, yref=yr + " domain", x0=lam, x1=lam, y0=0, y1=1,
                               line=dict(color="#777777", width=1.5, dash="dash"), layer="above"))
        if v in vel_labels:
            for yr, (y_top, y_bot) in zip(yrs, lab_y):
                xa = "right" if v < 0 else "left"
                for txt_line, yy in ((vel_labels[v], y_top), ("km/s", y_bot)):
                    annotations.append(dict(x=lam, y=yy, xref=xr, yref=yr, text=txt_line, showarrow=False,
                                            xanchor=xa, yanchor="middle", borderpad=0,
                                            font=dict(family=DEJAVU, size=lab_size, color="black")))
    for yr in yrs[1:]:
        shapes.append(dict(type="line", xref=xr + " domain", yref=yr, x0=0, x1=1, y0=0, y1=0,
                           line=dict(color="#888888", width=1.5, dash="dash"), layer="above"))

# spectra legends
rrect(890, 1506, 1294, 1550, 4)
seg(896, 1518, 936, 1518, "#808080", 2, dash="dash")
seg(896, 1537, 936, 1537, "#FF0000", 2.5)
ann(948, 1518, legend_old, 17.5, family=DEJAVU, xa="left")
ann(948, 1537, legend_new, 17.5, family=DEJAVU, xa="left")

rrect(932, 1985, 1296, 2029, 4)
seg(938, 1997, 974, 1997, "#808080", 2, dash="dash")
seg(938, 2017, 974, 2017, "#FF0000", 2.5)
ann(986, 1997, legend_old, 16.5, family=DEJAVU, xa="left")
ann(986, 2017, legend_new, 16.5, family=DEJAVU, xa="left")

# --- text boxes ---
R = "#FF0000"
FS = 85
ann_base(1378, 907, f"One flare <span style='color:{R}'>with continuum</span>", FS)
ann_base(1378, 1007, f"<span style='color:{R}'>enhancements</span>.", FS)
ann_base(1402, 1111, "- u-band: ~0.7mag", FS)
ann_base(1448, 1212, "TESS: ~0.05%", FS)
ann_base(1402, 1315, "-duration ~ 10-15 min", FS)

ann_base(1402, 1492, "No clear line wing shifts", FS)
ann_base(1402, 1595, f"(or <span style='color:{R}'>slight red wing</span>", FS)
ann_base(1402, 1696, f"<span style='color:{R}'>enhancements ??</span>)", FS)
ann_base(1402, 1900, "Other chromoshpheric", FS)
ann_base(1402, 2003, "lines (e.g., H\u03b4, H\u03b3, Ca", FS)
ann_base(1402, 2105, "K, Ca II 8542, He D3", FS)
ann_base(1402, 2209, "5876, Na D lines) also", FS)
ann_base(1402, 2312, "show similar time", FS)
ann_base(1402, 2413, "evolutions.", FS)

fig.update_layout(
    width=W, height=H, margin=dict(l=0, r=0, t=0, b=0, autoexpand=False),
    paper_bgcolor="white", plot_bgcolor="rgba(0,0,0,0)",
    showlegend=False, annotations=annotations, shapes=shapes,
    **layout_axes,
)

fig.write_html("out.html")
